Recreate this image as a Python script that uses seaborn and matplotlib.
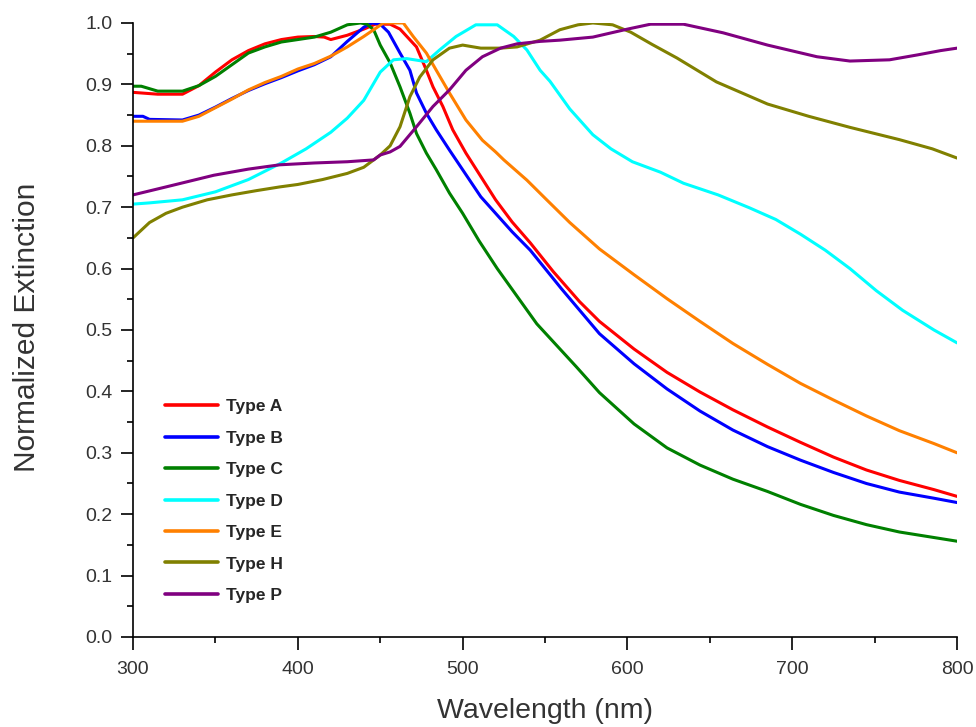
import pandas as pd
import matplotlib
matplotlib.use("Agg")
import matplotlib.pyplot as plt
from matplotlib.lines import Line2D
from matplotlib.ticker import MultipleLocator
import seaborn as sns

# Spectra (wavelength in nm, normalized extinction)
wl_a = [300, 315, 330, 340, 350, 360, 370, 380, 390, 400, 410, 416, 420, 430, 440, 447, 456, 462, 472, 478,
        482, 488, 494, 502, 511, 520, 530, 541, 555, 571, 583, 604, 624, 644, 664, 685, 705, 725, 745, 765, 786, 800]
ext_a = [0.887, 0.884, 0.884, 0.898, 0.92, 0.94, 0.955, 0.966, 0.973, 0.977, 0.978, 0.977, 0.973, 0.98, 0.99,
         0.998, 0.998, 0.99, 0.961, 0.923, 0.896, 0.864, 0.826, 0.788, 0.75, 0.712, 0.676, 0.642, 0.595, 0.546,
         0.514, 0.469, 0.431, 0.399, 0.37, 0.342, 0.317, 0.293, 0.272, 0.255, 0.24, 0.229]

wl_b = [300, 306, 310, 330, 340, 350, 360, 370, 380, 390, 400, 410, 420, 430, 440, 445, 450, 455, 462, 468,
        472, 478, 484, 492, 500, 511, 520, 530, 541, 560, 583, 604, 624, 644, 664, 685, 705, 725, 745, 765, 786, 800]
ext_b = [0.848, 0.848, 0.843, 0.842, 0.85, 0.863, 0.877, 0.89, 0.901, 0.911, 0.922, 0.932, 0.945, 0.97, 0.993,
         1.0, 0.998, 0.985, 0.951, 0.923, 0.886, 0.853, 0.826, 0.793, 0.761, 0.717, 0.69, 0.66, 0.63, 0.567,
         0.494, 0.445, 0.404, 0.368, 0.337, 0.31, 0.288, 0.268, 0.25, 0.236, 0.226, 0.219]

wl_c = [300, 305, 315, 330, 340, 350, 360, 370, 380, 390, 400, 410, 420, 430, 438, 442, 446, 450, 456, 462,
        468, 472, 478, 484, 492, 500, 510, 521, 545, 569, 583, 604, 624, 644, 664, 685, 705, 725, 745, 765, 786, 800]
ext_c = [0.897, 0.897, 0.889, 0.889, 0.898, 0.913, 0.932, 0.951, 0.961, 0.969, 0.973, 0.977, 0.985, 0.997, 1.0,
         0.998, 0.989, 0.964, 0.935, 0.896, 0.853, 0.82, 0.788, 0.761, 0.723, 0.69, 0.645, 0.6, 0.51, 0.44,
         0.398, 0.347, 0.308, 0.28, 0.257, 0.237, 0.216, 0.198, 0.183, 0.171, 0.162, 0.156]

wl_d = [300, 310, 330, 350, 370, 390, 405, 420, 430, 440, 450, 458, 466, 478, 486, 496, 508, 521, 531, 539,
        547, 553, 565, 579, 590, 603, 620, 634, 655, 674, 690, 705, 720, 735, 751, 767, 786, 800]
ext_d = [0.705, 0.707, 0.712, 0.725, 0.745, 0.772, 0.795, 0.822, 0.845, 0.874, 0.92, 0.94, 0.942, 0.937, 0.956,
         0.978, 0.997, 0.997, 0.978, 0.956, 0.923, 0.905, 0.86, 0.818, 0.795, 0.774, 0.757, 0.739, 0.72, 0.699,
         0.68, 0.656, 0.63, 0.6, 0.564, 0.532, 0.5, 0.479]

wl_e = [300, 330, 340, 350, 360, 370, 380, 390, 400, 410, 420, 430, 440, 446, 452, 464, 470, 478, 484, 492,
        502, 512, 520, 525, 539, 551, 565, 583, 604, 624, 644, 664, 685, 705, 725, 745, 765, 786, 800]
ext_e = [0.84, 0.84, 0.848, 0.862, 0.876, 0.891, 0.903, 0.913, 0.925, 0.934, 0.946, 0.961, 0.978, 0.989, 1.0,
         1.0, 0.978, 0.951, 0.923, 0.886, 0.842, 0.809, 0.79, 0.777, 0.744, 0.712, 0.675, 0.632, 0.59, 0.551,
         0.514, 0.478, 0.444, 0.413, 0.386, 0.36, 0.336, 0.315, 0.3]

wl_h = [300, 310, 320, 330, 345, 360, 375, 389, 400, 415, 430, 440, 450, 456, 462, 468, 474, 482, 492, 500,
        511, 523, 533, 547, 559, 570, 579, 591, 602, 615, 630, 654, 685, 710, 735, 765, 785, 800]
ext_h = [0.65, 0.675, 0.69, 0.7, 0.712, 0.72, 0.727, 0.733, 0.737, 0.745, 0.755, 0.765, 0.785, 0.8, 0.831,
         0.88, 0.912, 0.94, 0.959, 0.964, 0.959, 0.959, 0.961, 0.972, 0.989, 0.997, 1.0, 0.997, 0.985, 0.965,
         0.943, 0.904, 0.868, 0.848, 0.83, 0.81, 0.795, 0.78]

wl_p = [300, 320, 349, 370, 389, 410, 430, 446, 450, 456, 462, 472, 482, 492, 502, 512, 523, 533, 547, 559,
        579, 600, 614, 634, 658, 685, 715, 735, 759, 776, 790, 800]
ext_p = [0.72, 0.733, 0.752, 0.762, 0.769, 0.772, 0.774, 0.777, 0.785, 0.79, 0.799, 0.831, 0.864, 0.891, 0.923,
         0.945, 0.959, 0.966, 0.97, 0.972, 0.977, 0.99, 0.998, 0.998, 0.984, 0.964, 0.945, 0.938, 0.94, 0.948,
         0.955, 0.959]

types = ["Type A", "Type B", "Type C", "Type D", "Type E", "Type H", "Type P"]
colors = ["#ff0000", "#0000ff", "#008000", "#00ffff", "#ff8000", "#808000", "#800080"]
wavelengths = [wl_a, wl_b, wl_c, wl_d, wl_e, wl_h, wl_p]
extinctions = [ext_a, ext_b, ext_c, ext_d, ext_e, ext_h, ext_p]

# long-form table for seaborn
frames = []
for name, wl, ext in zip(types, wavelengths, extinctions):
    frames.append(pd.DataFrame({"Wavelength": wl, "Extinction": ext, "Type": name}))
df = pd.concat(frames, ignore_index=True)

sns.set_style("ticks")
plt.rcParams["font.family"] = ["Liberation Sans", "DejaVu Sans"]

fig = plt.figure(figsize=(9.76, 7.27), dpi=100)
ax = fig.add_axes([0.1363, 0.1238, 0.8443, 0.8446])

sns.lineplot(data=df, x="Wavelength", y="Extinction", hue="Type", hue_order=types,
             palette=dict(zip(types, colors)), estimator=None, sort=False,
             linewidth=2.2, legend=False, ax=ax)

ax.set_xlim(300, 800)
ax.set_ylim(0, 1.0)
ax.xaxis.set_major_locator(MultipleLocator(100))
ax.xaxis.set_minor_locator(MultipleLocator(50))
ax.yaxis.set_major_locator(MultipleLocator(0.1))
ax.yaxis.set_minor_locator(MultipleLocator(0.05))
ax.yaxis.set_major_formatter(plt.FormatStrFormatter("%.1f"))

for side in ["top", "right"]:
    ax.spines[side].set_visible(False)
for side in ["left", "bottom"]:
    ax.spines[side].set_linewidth(1.2)
    ax.spines[side].set_color("black")

ax.tick_params(which="major", direction="out", length=9, width=1.2, color="black",
               labelsize=14, labelcolor="#333333")
ax.tick_params(which="minor", direction="out", length=4.5, width=1.2, color="black")
ax.tick_params(axis="y", which="major", pad=6)
ax.tick_params(axis="x", which="major", pad=8)

ax.set_xlabel("Wavelength (nm)", fontsize=20.5, color="#333333")
ax.set_ylabel("Normalized Extinction", fontsize=21.5, color="#333333")
ax.xaxis.set_label_coords(0.5, -0.1)
ax.yaxis.set_label_coords(-0.112, 0.504)

handles = [Line2D([0], [0], color=c, lw=2.6) for c in colors]
ax.legend(handles, types, loc="upper left", bbox_to_anchor=(0.02, 0.413), frameon=False,
          prop={"weight": "bold", "size": 12.5}, handlelength=3.05, handletextpad=0.45,
          labelspacing=0.94)

plt.savefig("out.png", dpi=100)
